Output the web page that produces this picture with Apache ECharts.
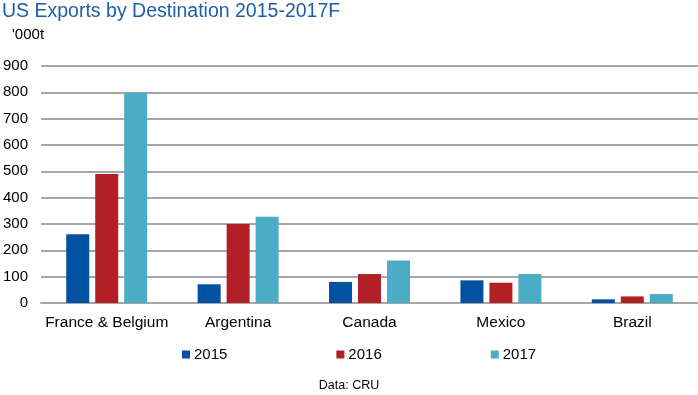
<!DOCTYPE html>
<html><head><meta charset="utf-8">
<script src="https://cdn.jsdelivr.net/npm/echarts@6/dist/echarts.min.js"></script>
<style>html,body{margin:0;padding:0;background:#fff}#c{width:698px;height:395px}</style>
</head><body><div id="c"></div>
<script>
const categories = ['France & Belgium', 'Argentina', 'Canada', 'Mexico', 'Brazil'];
const values2015 = [261, 71, 80, 86, 14];
const values2016 = [490, 300, 110, 77, 25];
const values2017 = [798, 328, 161, 110, 34];
const seriesNames = ['2015', '2016', '2017'];
const colors = ['#00519f', '#b22025', '#4bacc6'];
const font = 'Liberation Sans, Arial, sans-serif';

const chart = echarts.init(document.getElementById('c'));
const data = [values2015, values2016, values2017];
chart.setOption({
  animation: false,
  textStyle: { fontFamily: font },
  title: [
    { text: 'US Exports by Destination 2015-2017F', left: -3, top: -3,
      textStyle: { fontFamily: font, fontSize: 19.5, fontWeight: 'normal', color: '#1f5ea8' } },
    { text: "'000t", left: 7, top: 22,
      textStyle: { fontFamily: font, fontSize: 15, fontWeight: 'normal', color: '#000' } },
    { text: 'Data: CRU', left: 'center', top: 374,
      textStyle: { fontFamily: font, fontSize: 12.5, fontWeight: 'normal', color: '#000' } }
  ],
  legend: {
    left: 177, top: 342, itemWidth: 8, itemHeight: 8, itemGap: 109,
    icon: 'rect',
    textStyle: { fontFamily: font, fontSize: 15, color: '#000', padding: [0, 0, 0, -1] },
    data: seriesNames
  },
  grid: { left: 39, right: -1, top: 66, bottom: 92 },
  xAxis: {
    type: 'category', data: categories,
    axisLine: { lineStyle: { color: '#a6a6a6', width: 2 } },
    axisTick: { show: false },
    axisLabel: { fontFamily: font, fontSize: 15.5, color: '#000', margin: 12, interval: 0 }
  },
  yAxis: {
    type: 'value', min: 0, max: 900, interval: 100,
    axisLine: { show: false }, axisTick: { show: false },
    splitLine: { lineStyle: { color: '#a6a6a6', width: 2 } },
    axisLabel: { fontFamily: font, fontSize: 15, color: '#000', margin: 13 }
  },
  series: seriesNames.map((n, i) => ({
    name: n, type: 'bar', data: data[i], barWidth: 23, barGap: '26%',
    itemStyle: { color: colors[i] }
  }))
});
</script></body></html>
